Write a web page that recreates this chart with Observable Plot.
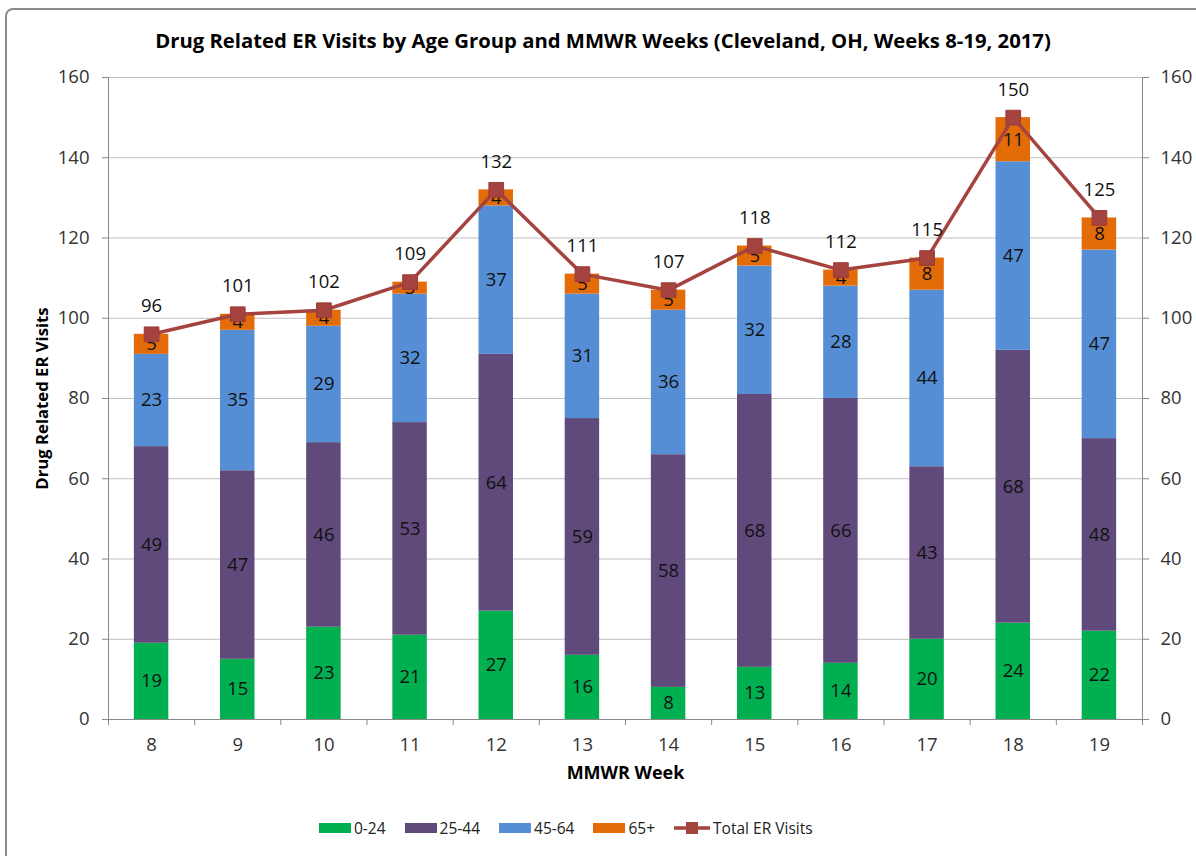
<!DOCTYPE html>
<html>
<head>
<meta charset="utf-8">
<script src="https://cdn.jsdelivr.net/npm/d3@7"></script>
<script src="https://cdn.jsdelivr.net/npm/@observablehq/plot@0.6"></script>
<style>
  html, body { margin: 0; padding: 0; background: #fff; overflow: hidden; width: 1196px; height: 856px; }
  body { position: relative; font-family: "Open Sans", Lato, sans-serif; }
  #frame { position: absolute; left: 5px; top: 8px; width: 1220px; height: 880px; border: 2px solid #8a8a8a; border-radius: 8px; box-sizing: border-box; }
  #title { position: absolute; left: 0; width: 1206px; top: 26px; text-align: center; font-weight: bold; font-size: 20.3px; line-height: 28px; color: #000; white-space: nowrap; }
  #chart { position: absolute; left: 0; top: 0; }
  #legend { position: absolute; left: 319px; top: 817px; display: flex; align-items: center; font-size: 15.5px; line-height: 22px; color: #222; }
  .item { display: flex; align-items: center; margin-right: 19px; }
  .sw { width: 32px; height: 10px; margin-right: 3px; }
</style>
</head>
<body>
<div id="frame"></div>
<div id="title">Drug Related ER Visits by Age Group and MMWR Weeks (Cleveland, OH, Weeks 8-19, 2017)</div>
<div id="chart"></div>
<div id="legend"></div>
<script>
const weeks = [8, 9, 10, 11, 12, 13, 14, 15, 16, 17, 18, 19];
const age0_24 = [19, 15, 23, 21, 27, 16, 8, 13, 14, 20, 24, 22];
const age25_44 = [49, 47, 46, 53, 64, 59, 58, 68, 66, 43, 68, 48];
const age45_64 = [23, 35, 29, 32, 37, 31, 36, 32, 28, 44, 47, 47];
const age65plus = [5, 4, 4, 3, 4, 5, 5, 5, 4, 8, 11, 8];
const totals = [96, 101, 102, 109, 132, 111, 107, 118, 112, 115, 150, 125];
const groups = ["0-24", "25-44", "45-64", "65+"];
const groupColors = ["#00B050", "#604A7B", "#558ED5", "#E36C09"];
const lineColor = "#A5433F";
const yTicks = [0, 20, 40, 60, 80, 100, 120, 140, 160];

const series = [age0_24, age25_44, age45_64, age65plus];
const rows = [];
weeks.forEach((w, i) => {
  let acc = 0;
  series.forEach((s, g) => {
    rows.push({week: w, group: groups[g], value: s[i], y1: acc, y2: acc + s[i]});
    acc += s[i];
  });
});
const totalRows = weeks.map((w, i) => ({week: w, total: totals[i]}));
const halfBar = 0.2;
const boundaries = d3.range(weeks[0] - 0.5, weeks[weeks.length - 1] + 0.51, 1);

const font = "'Open Sans', Lato, sans-serif";
const H = 800;
const chart = Plot.plot({
  width: 1196,
  height: H,
  marginLeft: 108,
  marginRight: 54,
  marginTop: 77,
  marginBottom: H - 719,
  style: {fontFamily: font, background: "transparent"},
  x: {domain: [weeks[0] - 0.5, weeks[weeks.length - 1] + 0.5], axis: null},
  y: {domain: [0, 160], axis: null},
  color: {domain: groups, range: groupColors},
  marks: [
    Plot.ruleY(yTicks.filter(t => t > 0), {stroke: "#BFBFBF", strokeWidth: 1}),
    Plot.axisY({anchor: "left", ticks: yTicks, tickSize: 6, tickPadding: 13, fontSize: 18.5, label: null, stroke: "#888", color: "#333"}),
    Plot.axisY({anchor: "right", ticks: yTicks, tickSize: 6, tickPadding: 12, fontSize: 18.5, label: null, stroke: "#888", color: "#333"}),
    Plot.axisX({ticks: boundaries, tickFormat: () => "", tickSize: 6, label: null, stroke: "#888"}),
    Plot.axisX({ticks: weeks, tickFormat: d => String(d), tickSize: 0, tickPadding: 18, fontSize: 18.5, label: null, color: "#333"}),
    Plot.ruleX([weeks[0] - 0.5, weeks[weeks.length - 1] + 0.5], {stroke: "#888"}),
    Plot.ruleY([0], {stroke: "#888"}),
    Plot.rect(rows, {x1: d => d.week - halfBar, x2: d => d.week + halfBar, y1: "y1", y2: "y2", fill: "group"}),
    Plot.text(rows, {x: "week", y: d => (d.y1 + d.y2) / 2, text: d => String(d.value), fontSize: 18.5, fill: "#111"}),
    Plot.line(totalRows, {x: "week", y: "total", stroke: lineColor, strokeWidth: 3.5}),
    Plot.dot(totalRows, {x: "week", y: "total", symbol: "square", r: 8.3, fill: lineColor, stroke: "#9a3c38", strokeWidth: 1}),
    Plot.text(totalRows, {x: "week", y: "total", text: d => String(d.total), dy: -28, fontSize: 18.5, fill: "#111"}),
    Plot.text(["MMWR Week"], {frameAnchor: "bottom", lineAnchor: "middle", textAnchor: "middle", dy: 54, fontSize: 18, fontWeight: "bold", fill: "#000"}),
    Plot.text(["Drug Related ER Visits"], {frameAnchor: "left", textAnchor: "middle", lineAnchor: "middle", dx: -66, rotate: -90, fontSize: 16.7, fontWeight: "bold", fill: "#000"})
  ]
});
document.getElementById("chart").appendChild(chart);

const legend = document.getElementById("legend");
groups.forEach((g, i) => {
  const it = document.createElement("div");
  it.className = "item";
  it.innerHTML = `<div class="sw" style="background:${groupColors[i]}"></div><span>${g}</span>`;
  legend.appendChild(it);
});
const li = document.createElement("div");
li.className = "item";
li.innerHTML = `<svg width="36" height="14" style="margin-right:3px"><line x1="0" x2="36" y1="7" y2="7" stroke="${lineColor}" stroke-width="3.5"/><rect x="12" y="1" width="12" height="12" fill="${lineColor}"/></svg><span>Total ER Visits</span>`;
legend.appendChild(li);
</script>
</body>
</html>
